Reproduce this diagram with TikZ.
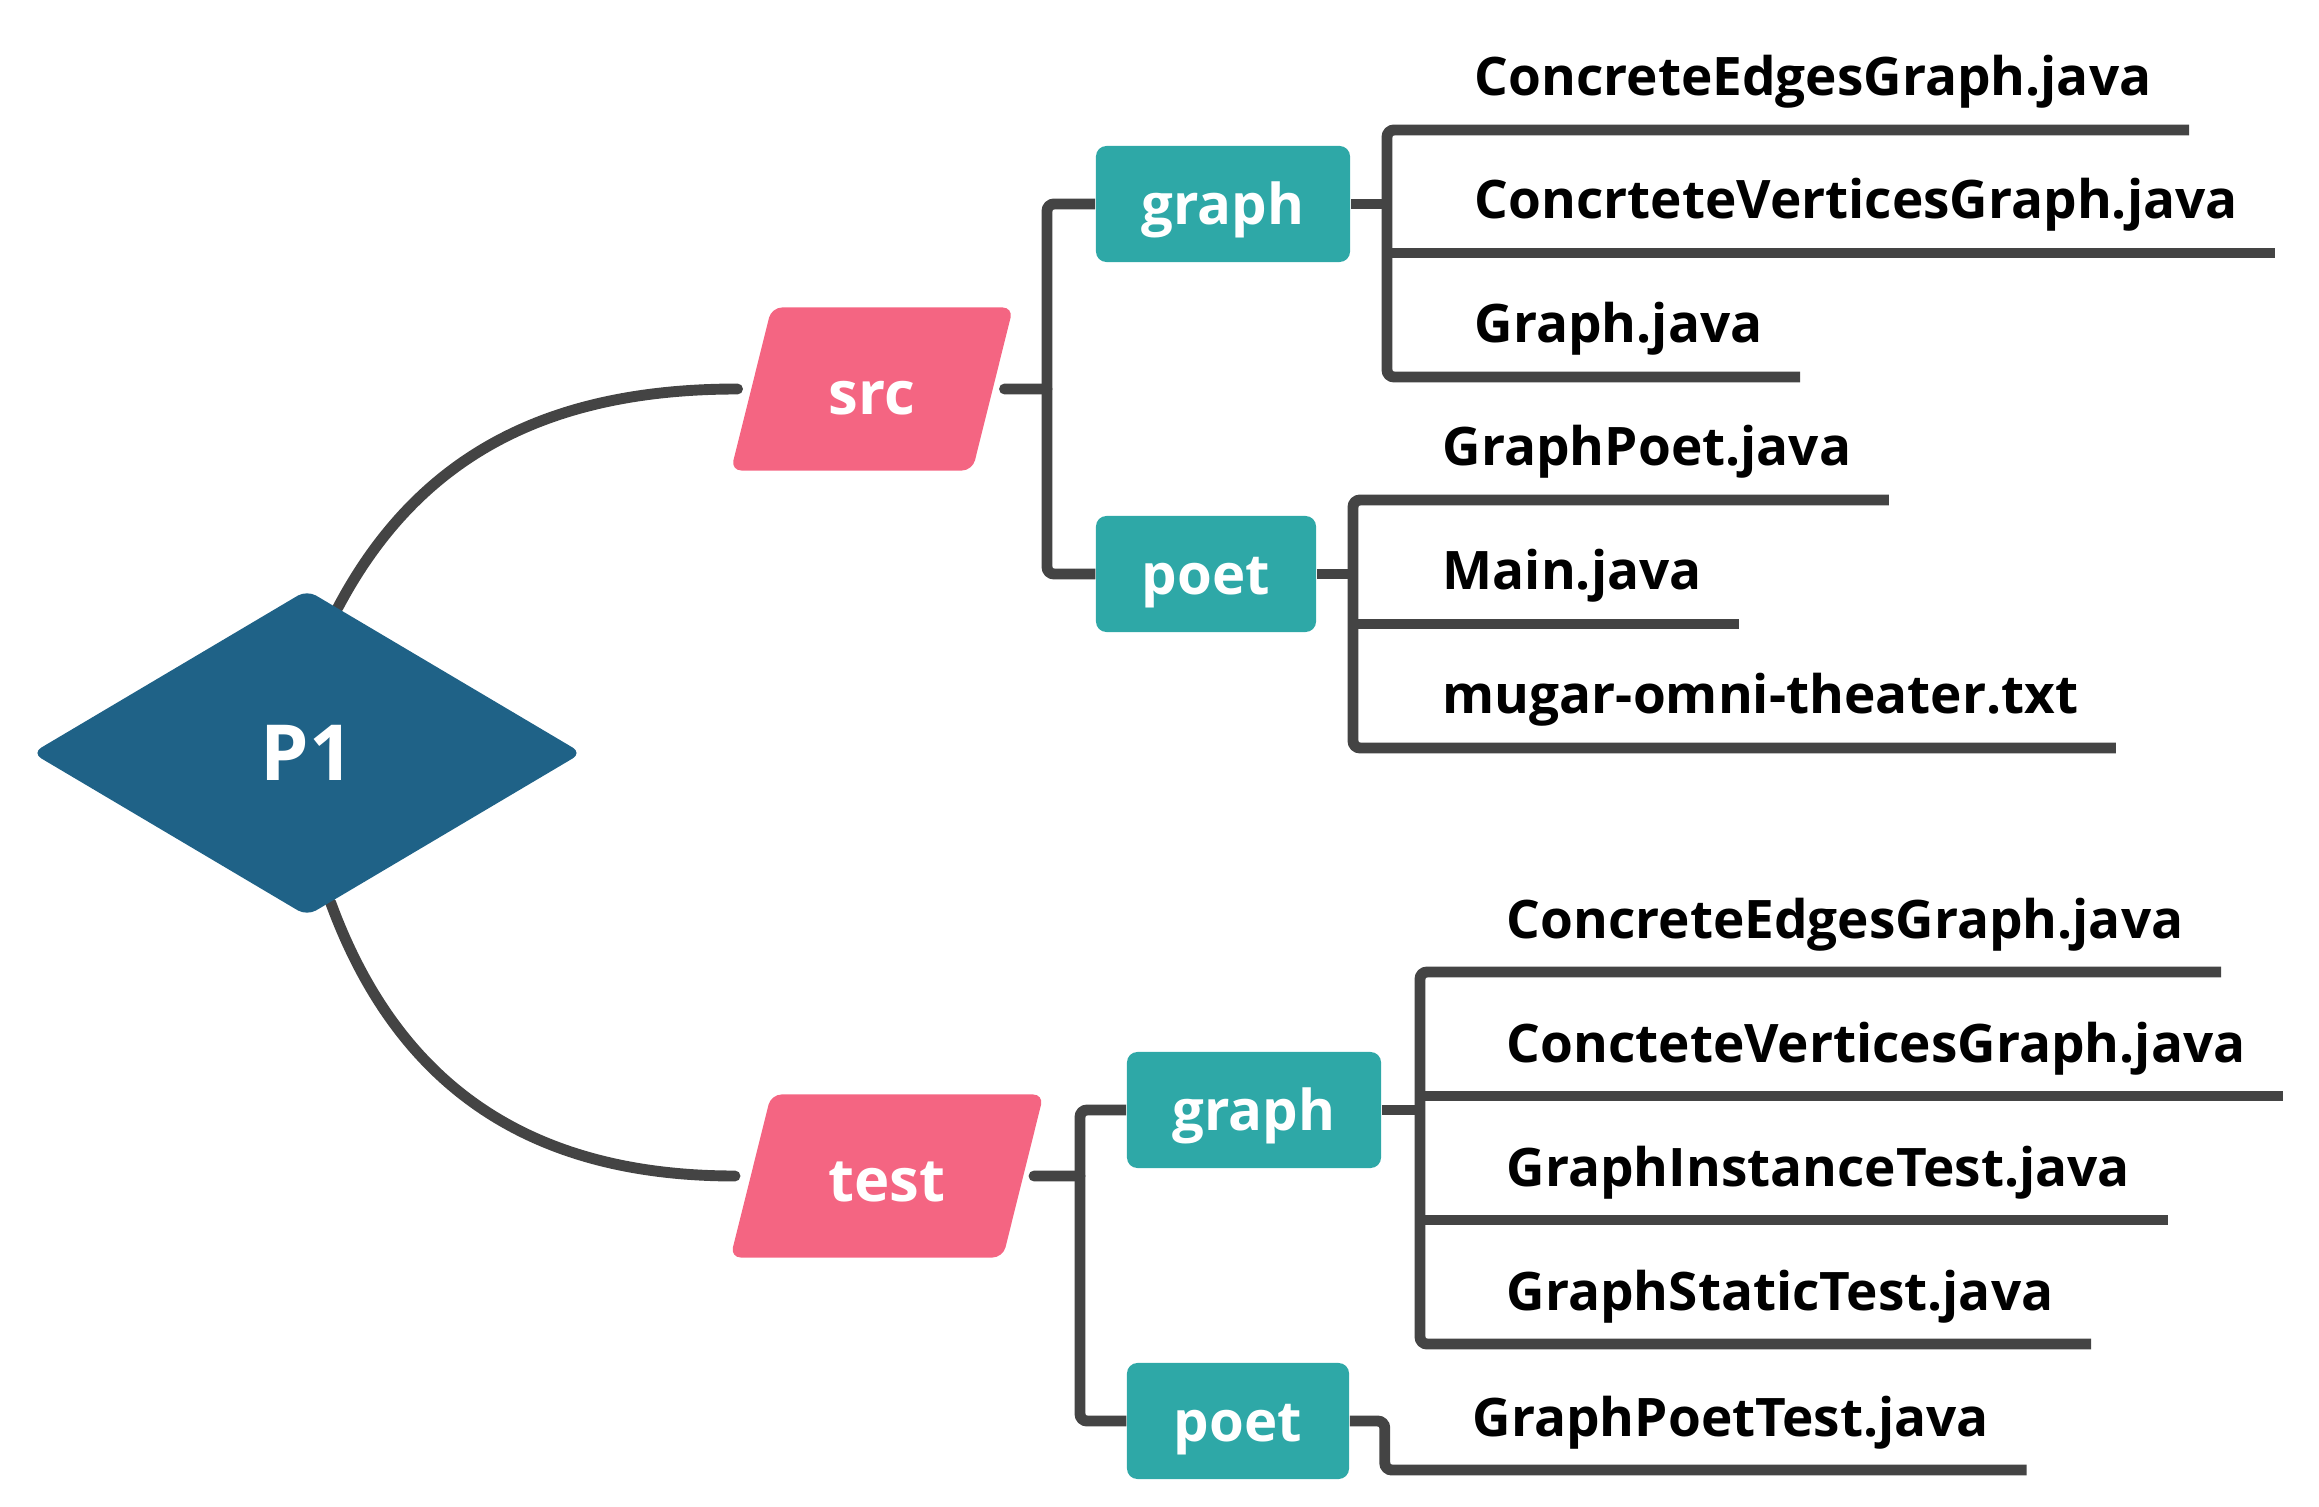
\documentclass[tikz,border=0pt]{standalone}
\usepackage{fontspec}
\setmainfont{Open Sans}
\usetikzlibrary{calc,positioning,shapes.geometric,backgrounds}
\definecolor{Ink}{HTML}{444444}
\definecolor{Navy}{HTML}{1F6287}
\definecolor{Rose}{HTML}{F46582}
\definecolor{Teal}{HTML}{2EA8A7}

\begin{document}
\begin{tikzpicture}[x=0.01cm,y=-0.01cm,
    link/.style={Ink,line width=3.1pt},
    folder/.style={trapezium,trapezium left angle=76,trapezium right angle=104,
      trapezium stretches body,fill=Rose,rounded corners=3pt,inner xsep=0pt,inner ysep=0.505cm,
      text height=0.56cm,text depth=0.06cm,text=white,font=\fontsize{17}{20}\selectfont\bfseries},
    pkg/.style={rectangle,fill=Teal,rounded corners=3pt,inner sep=0pt,minimum height=1.16cm,
      text height=0.5cm,text depth=0.1cm,text=white,font=\fontsize{16}{19}\selectfont\bfseries},
    file/.style={anchor=base west,inner sep=0pt,font=\fontsize{15.1}{18}\selectfont\bfseries}]
  \useasboundingbox (0,0) rectangle (2319,1507);

  \node[diamond,aspect=1.69,fill=Navy,minimum width=5.5cm,minimum height=3.26cm,inner sep=0pt,
    rounded corners=3pt,text=white,font=\fontsize{22}{26}\selectfont\bfseries] (p1) at (307,753) {P1};
  \node[folder,minimum width=2.82cm] (src) at (872,389) {src};
  \node[folder,minimum width=3.13cm] (test) at (887,1176) {test};

  \node[pkg,minimum width=2.54cm] (sgraph) at (1223,204) {graph};
  \node[pkg,minimum width=2.20cm] (spoet) at (1206,574) {poet};
  \node[pkg,minimum width=2.54cm] (tgraph) at (1254,1110) {graph};
  \node[pkg,minimum width=2.22cm] (tpoet) at (1238,1421) {poet};
  \coordinate (strunk) at (1047,389);
  \coordinate (ttrunk) at (1080,1176);

  \node[file] (sg1) at (1474,96) {ConcreteEdgesGraph.java};
  \node[file] (sg2) at (1474,219) {ConcrteteVerticesGraph.java};
  \node[file] (sg3) at (1474,343) {Graph.java};
  \node[file] (sp1) at (1442,466) {GraphPoet.java};
  \node[file] (sp2) at (1442,590) {Main.java};
  \node[file] (sp3) at (1442,714) {mugar-omni-theater.txt};
  \node[file] (tg1) at (1506,938) {ConcreteEdgesGraph.java};
  \node[file] (tg2) at (1506,1062) {ConcteteVerticesGraph.java};
  \node[file] (tg3) at (1506,1186) {GraphInstanceTest.java};
  \node[file] (tg4) at (1506,1310) {GraphStaticTest.java};
  \node[file] (tp1) at (1472,1436) {GraphPoetTest.java};

  \begin{scope}[on background layer]
    \draw[link,line cap=round] (p1.78) .. controls +(84,-159) and +(-180,0) .. ([xshift=-0.13cm]src.west);
    \draw[link,line cap=round] (p1.-81) .. controls +(69,188) and +(-200,0) .. ([xshift=-0.15cm]test.west);
  \end{scope}

  \draw[link,line cap=round] ([xshift=0.11cm]src.east) -- (strunk);
  \draw[link,rounded corners=2pt] (sgraph.west) -| (strunk) |- (spoet.west);
  \draw[link,line cap=round] ([xshift=0.1cm]test.east) -- (ttrunk);
  \draw[link,rounded corners=2pt] (tgraph.west) -| (ttrunk) |- (tpoet.west);

  \draw[link] (sgraph.east) -- ($(sgraph.east -| sg1.base west)+(-87,0)$);
  \draw[link,rounded corners=2pt] ($(sg1.base east)+(37,34)$) -- ($(sg1.base west)+(-87,34)$)
    -- ($(sg3.base west)+(-87,34)$) -- ($(sg3.base east)+(37,34)$);
  \draw[link] ($(sg2.base west)+(-87,34)$) -- ($(sg2.base east)+(37,34)$);

  \draw[link] (spoet.east) -- ($(spoet.east -| sp1.base west)+(-89,0)$);
  \draw[link,rounded corners=2pt] ($(sp1.base east)+(37,34)$) -- ($(sp1.base west)+(-89,34)$)
    -- ($(sp3.base west)+(-89,34)$) -- ($(sp3.base east)+(37,34)$);
  \draw[link] ($(sp2.base west)+(-89,34)$) -- ($(sp2.base east)+(37,34)$);

  \draw[link] (tgraph.east) -- ($(tgraph.east -| tg1.base west)+(-86,0)$);
  \draw[link,rounded corners=2pt] ($(tg1.base east)+(37,34)$) -- ($(tg1.base west)+(-86,34)$)
    -- ($(tg4.base west)+(-86,34)$) -- ($(tg4.base east)+(37,34)$);
  \draw[link] ($(tg2.base west)+(-86,34)$) -- ($(tg2.base east)+(37,34)$);
  \draw[link] ($(tg3.base west)+(-86,34)$) -- ($(tg3.base east)+(37,34)$);

  \draw[link,rounded corners=2pt] (tpoet.east) -- ++(35,0) |- ($(tp1.base east)+(37,34)$);
\end{tikzpicture}
\end{document}
